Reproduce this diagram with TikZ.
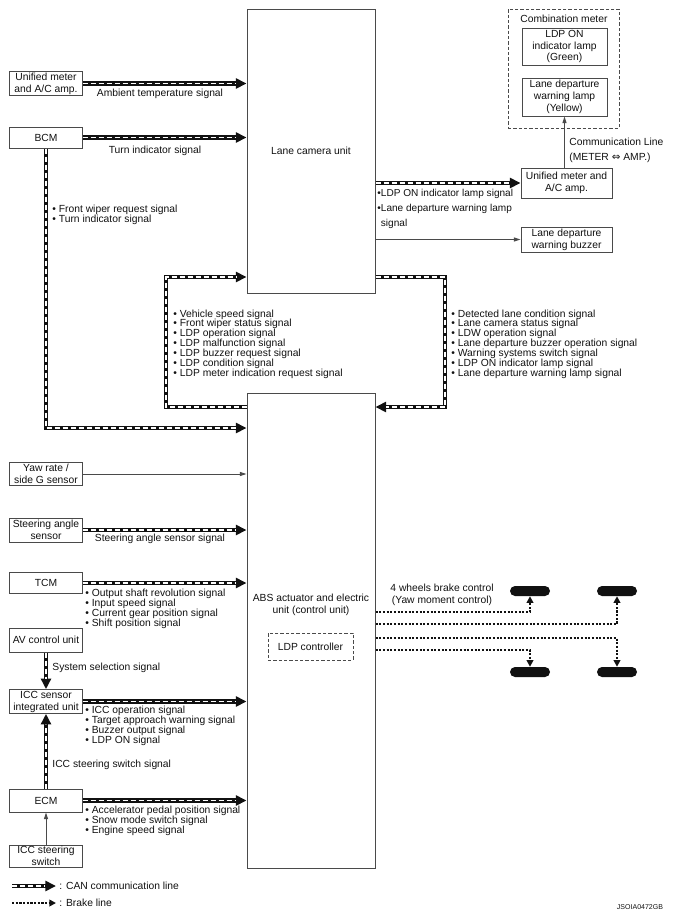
\documentclass[tikz,border=0pt]{standalone}
\usepackage{fontspec}
\setmainfont{Liberation Sans}
\newfontfamily\symfont{DejaVu Sans}
\usetikzlibrary{arrows.meta, positioning, calc}
\definecolor{ink}{HTML}{111111}
\definecolor{frame}{HTML}{4A4A4A}
\tikzset{
  font=\fontsize{8.8}{9.8}\selectfont,
  %
  unit/.style={
    draw=frame, line width=0.3mm, fill=white, align=center, text=ink,
    inner sep=1pt, minimum width=21.6mm, minimum height=6.9mm,
    font=\fontsize{8.8}{10.2}\selectfont,
  },
  dashunit/.style={unit, fill=none, dash pattern=on 1mm off 0.6mm},
  wheel/.style={fill=ink, rounded corners=1.5mm, minimum width=12mm,
                minimum height=3mm, inner sep=0pt},
  %
  can/.style={draw=ink, line width=1.25mm, line join=miter,
    -{Triangle[length=3.2mm, width=3mm]},
    postaction={draw=white, line width=0.45mm, -,
                dash pattern=on 1.5mm off 0.9mm, shorten >=3.2mm}},
  brake/.style={draw=ink, line width=0.65mm, dash pattern=on 0.65mm off 0.45mm,
    -{Triangle[length=2mm, width=2mm]}},
  thinarrow/.style={draw=frame, line width=0.3mm,
    -{Triangle[length=2mm, width=1.2mm]}},
  %
  sig/.style={inner sep=1pt, text=ink},
  lst/.style={sig, align=left, font=\fontsize{8.8}{8.4}\selectfont},
}

\begin{document}
\begin{tikzpicture}[x=0.3mm, y=-0.3mm]

  \useasboundingbox (0,0) rectangle (673,921);

  % the two control units
  \node[unit, minimum width=38.4mm, minimum height=85.2mm] (lcu) at (311,151) {Lane camera unit};
  \node[unit, minimum width=38.4mm, minimum height=142.5mm] (abs) at (311,630.5) {};
  \node[sig, align=center, font=\fontsize{8.8}{10.2}\selectfont] (abslbl) at (311,605) {ABS actuator and electric\\unit (control unit)};
  \node[dashunit, minimum width=25.5mm, minimum height=8.1mm] (ldpc) at (310.5,646.5) {LDP controller};

  % left-hand units
  \node[unit] (umeter) at (46,83.5) {Unified meter\\and A/C amp.};
  \node[unit, minimum height=6.3mm] (bcm) at (46,137.5) {BCM};
  \node[unit] (yaw) at (46,474) {Yaw rate /\\side G sensor};
  \node[unit, minimum height=7.2mm] (steer) at (46,530) {Steering angle\\sensor};
  \node[unit, minimum height=6.3mm] (tcm) at (46,583) {TCM};
  \node[unit, minimum height=7.2mm] (av) at (46,640) {AV control unit};
  \node[unit] (iccs) at (46,701.5) {ICC sensor\\integrated unit};
  \node[unit] (ecm) at (46,800.5) {ECM};
  \node[unit, minimum height=6.6mm] (iccsw) at (46,856) {ICC steering\\switch};

  % right-hand units
  \node[dashunit, minimum width=33.3mm, minimum height=35.7mm] (combi) at (563.5,68.5) {};
  \node[sig] (combilbl) at (564,19) {Combination meter};
  \node[unit, minimum width=25.5mm, minimum height=11.1mm] (ldpon) at (564.5,46.5) {LDP ON\\indicator lamp\\(Green)};
  \node[unit, minimum width=25.5mm, minimum height=11.4mm] (ldwlamp) at (564.5,97) {Lane departure\\warning lamp\\(Yellow)};
  \node[unit, minimum width=27.3mm, minimum height=9mm] (rmeter) at (566.5,183) {Unified meter and\\A/C amp.};
  \node[unit, minimum width=27.3mm, minimum height=7.5mm] (buzzer) at (566.5,239.5) {Lane departure\\warning buzzer};

  % wheels
  \node[wheel] (wfl) at (530,591) {};
  \node[wheel] (wfr) at (617,591) {};
  \node[wheel] (wrl) at (530,672) {};
  \node[wheel] (wrr) at (617,672) {};

  % bends
  \coordinate (bcmbend) at (46,428);
  \coordinate (lupper) at (166,277);
  \coordinate (llower) at (166,407);
  \coordinate (rupper) at (445,277);
  \coordinate (rlower) at (445,407);
  \coordinate (brk1) at (0,612);
  \coordinate (brk2) at (0,624);
  \coordinate (brk3) at (0,638);
  \coordinate (brk4) at (0,650);

  % CAN lines
  \draw[can] (umeter.east) -- (umeter.east -| lcu.west);
  \draw[can] (bcm.east) -- (bcm.east -| lcu.west);
  \draw[can] (bcm.south) -- (bcmbend) -- (bcmbend -| abs.west);
  \draw[can] (abs.west |- llower) -- (llower) -- (lupper) -- (lupper -| lcu.west);
  \draw[can] (lcu.east |- rupper) -- (rupper) -- (rlower) -- (rlower -| abs.east);
  \draw[can] (lcu.east |- rmeter) -- (rmeter.west);
  \draw[can] (steer.east) -- (steer.east -| abs.west);
  \draw[can] (tcm.east) -- (tcm.east -| abs.west);
  \draw[can] (av.south) -- (iccs.north);
  \draw[can] (iccs.east) -- (iccs.east -| abs.west);
  \draw[can] (ecm.north) -- (iccs.south);
  \draw[can] (ecm.east) -- (ecm.east -| abs.west);

  % plain wires
  \draw[thinarrow] (lcu.east |- buzzer) -- (buzzer.west);
  \draw[thinarrow] (ldwlamp.south |- rmeter.north) -- (ldwlamp.south);
  \draw[thinarrow] (yaw.east) -- (yaw.east -| abs.west);
  \draw[thinarrow] (iccsw.north) -- (ecm.south);

  % brake lines
  \draw[brake] (abs.east |- brk1) -| (wfl.south);
  \draw[brake] (abs.east |- brk2) -| (wfr.south);
  \draw[brake] (abs.east |- brk3) -| (wrr.north);
  \draw[brake] (abs.east |- brk4) -| (wrl.north);

  % signal labels
  \node[sig] (ambient) at (160,94) {Ambient temperature signal};
  \node[sig] (turn) at (155,151) {Turn indicator signal};
  \node[lst, anchor=west] (bcmsig) at (51,214.5) {• Front wiper request signal\\• Turn indicator signal};
  \node[lst, anchor=west] (tolcu) at (172,344)
    {• Vehicle speed signal\\• Front wiper status signal\\• LDP operation signal\\• LDP malfunction signal\\• LDP buzzer request signal\\• LDP condition signal\\• LDP meter indication request signal};
  \node[lst, anchor=west] (toabs) at (450,344)
    {• Detected lane condition signal\\• Lane camera status signal\\• LDW operation signal\\• Lane departure buzzer operation signal\\• Warning systems switch signal\\• LDP ON indicator lamp signal\\• Lane departure warning lamp signal};
  \node[lst, anchor=west, font=\fontsize{8.6}{13}\selectfont] (lampsig) at (376,209)
    {•LDP ON indicator lamp signal\\•Lane departure warning lamp\\\phantom{•}signal};
  \node[sig, anchor=west, align=left, font=\fontsize{8.8}{12.8}\selectfont] (commline) at (568,150)
    {Communication Line\\(METER {\symfont ⇔} AMP.)};
  \node[sig] (steersig) at (160,539) {Steering angle sensor signal};
  \node[lst, anchor=west] (tcmsig) at (84,609)
    {• Output shaft revolution signal\\• Input speed signal\\• Current gear position signal\\• Shift position signal};
  \node[sig, anchor=west] (syssel) at (51,668) {System selection signal};
  \node[lst, anchor=west] (iccsig) at (84,726)
    {• ICC operation signal\\• Target approach warning signal\\• Buzzer output signal\\• LDP ON signal};
  \node[sig, anchor=west] (iccswsig) at (51,765) {ICC steering switch signal};
  \node[lst, anchor=west] (ecmsig) at (84,821)
    {• Accelerator pedal position signal\\• Snow mode switch signal\\• Engine speed signal};
  \node[sig, align=center, font=\fontsize{8.8}{10.2}\selectfont] (brakelbl) at (442,595)
    {4 wheels brake control\\(Yaw moment control)};

  % legend
  \coordinate (canfrom) at (12,886);
  \coordinate (canto) at (56,886);
  \coordinate (brkfrom) at (12,903);
  \coordinate (brkto) at (56,903);
  \draw[can] (canfrom) -- (canto);
  \draw[brake] (brkfrom) -- (brkto);
  \node[sig, anchor=west] (canlbl) at (58,886) {: CAN communication line};
  \node[sig, anchor=west] (brklbl) at (58,903) {: Brake line};
  \node[sig, font=\fontsize{6}{7}\selectfont] (figid) at (640,907) {JSOIA0472GB};

\end{tikzpicture}
\end{document}
